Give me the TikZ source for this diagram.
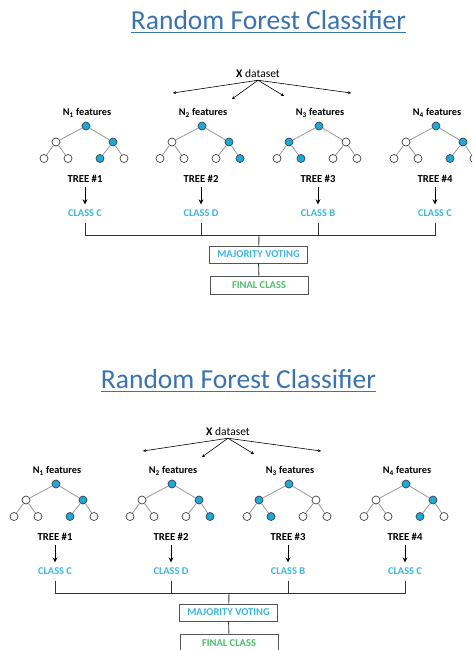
\documentclass[tikz,border=0pt]{standalone}
\usepackage{fontspec}
\setmainfont{Carlito}
\usetikzlibrary{arrows.meta}
\definecolor{titleblue}{HTML}{3A73B0}
\definecolor{clscyan}{HTML}{3DB6DC}
\definecolor{nodecyan}{HTML}{1DA8DA}
\definecolor{fingreen}{HTML}{4DBF6B}
\definecolor{edgegray}{HTML}{9A9A9A}
\definecolor{boxgray}{HTML}{555555}
\begin{document}
\begin{tikzpicture}[x=1pt,y=-1pt,
  titlet/.style={font=\fontsize{27.5}{30}\selectfont, text=titleblue, inner sep=0, anchor=base},
  dsl/.style={font=\fontsize{11.5}{13}\selectfont, inner sep=0},
  feat/.style={font=\bfseries\fontsize{10.3}{12}\selectfont, inner sep=0},
  treelab/.style={font=\bfseries\fontsize{10.7}{12}\selectfont, inner sep=0},
  cls/.style={font=\bfseries\fontsize{10.4}{12}\selectfont, text=clscyan, inner sep=0},
  tn/.style={circle, draw=black!75, line width=0.7pt, minimum size=8pt, inner sep=0},
  tedge/.style={edgegray, line width=0.8pt},
  darr/.style={-{Stealth[length=5pt,width=5pt]}, line width=1pt},
  farr/.style={-{Stealth[length=3pt,width=3pt]}, line width=0.6pt},
  votebox/.style={draw=boxgray, line width=0.8pt, minimum width=98pt, minimum height=17pt, inner sep=0, font=\bfseries\fontsize{10.5}{12}\selectfont},
  bar/.style={draw=black!80, line width=0.9pt}
]
\useasboundingbox (0,0) rectangle (472,650);
\fill[white] (0,0) rectangle (472,650);
\clip (0,0) rectangle (472,650);
\foreach \dx/\dy/\p in {0/0/a,-30/358/b}{
\begin{scope}[shift={(\dx,\dy)}, name prefix=\p-]
  \node[titlet] (title) at (268.5,30) {Random Forest Classifier};
  \draw[titleblue, line width=1pt] ([yshift=-3pt]title.base west) -- ([yshift=-3pt]title.base east);
  \node[dsl] (xd) at (258,74) {\textbf{X} dataset};
  \coordinate (e1) at (173,93);
  \coordinate (e2) at (232,99);
  \coordinate (e3) at (284,96);
  \coordinate (e4) at (351,93);
  \foreach \e in {1,2,3,4}{ \draw[farr] ([yshift=-2pt]xd.south) -- (e\e); }
  \coordinate (j) at (259,235);
  \foreach \k/\x/\cl/\cr/\ca/\cb/\cc/\cd/\lab in {
      1/86/white/nodecyan/white/white/nodecyan/white/{CLASS C},
      2/202/white/nodecyan/white/white/white/nodecyan/{CLASS D},
      3/319/nodecyan/white/white/nodecyan/white/white/{CLASS B},
      4/436/white/nodecyan/white/white/nodecyan/white/{CLASS C}}{
    \node[feat] (f\k) at (\x+1,113) {N\textsubscript{\k} features};
    \node[tn, fill=nodecyan] (t\k-r) at (\x,126) {};
    \node[tn, fill=\cl] (t\k-l) at (\x-30,142) {};
    \node[tn, fill=\cr] (t\k-rr) at (\x+27,142) {};
    \node[tn, fill=\ca] (t\k-a) at (\x-42,158.5) {};
    \node[tn, fill=\cb] (t\k-b) at (\x-18,158.5) {};
    \node[tn, fill=\cc] (t\k-c) at (\x+14,158.5) {};
    \node[tn, fill=\cd] (t\k-d) at (\x+38,158.5) {};
    \draw[tedge] (t\k-r) -- (t\k-l);
    \draw[tedge] (t\k-r) -- (t\k-rr);
    \draw[tedge] (t\k-l) -- (t\k-a);
    \draw[tedge] (t\k-l) -- (t\k-b);
    \draw[tedge] (t\k-rr) -- (t\k-c);
    \draw[tedge] (t\k-rr) -- (t\k-d);
    \node[treelab] (tl\k) at (\x-1,179) {TREE \#\k};
    \node[cls] (c\k) at (\x-1,213) {\lab};
    \draw[darr, shorten <=4pt, shorten >=5pt] (tl\k) -- (c\k);
    \draw[bar, shorten <=6pt] (c\k) |- (j);
  }
  \node[votebox, text=clscyan] (mv) at (258.5,254.5) {MAJORITY VOTING};
  \node[votebox, text=fingreen, minimum height=18pt] (fc) at (259,285) {FINAL CLASS};
  \draw[bar] (j) -- (mv);
  \draw[bar] (mv) -- (fc);
\end{scope}}
\end{tikzpicture}
\end{document}
